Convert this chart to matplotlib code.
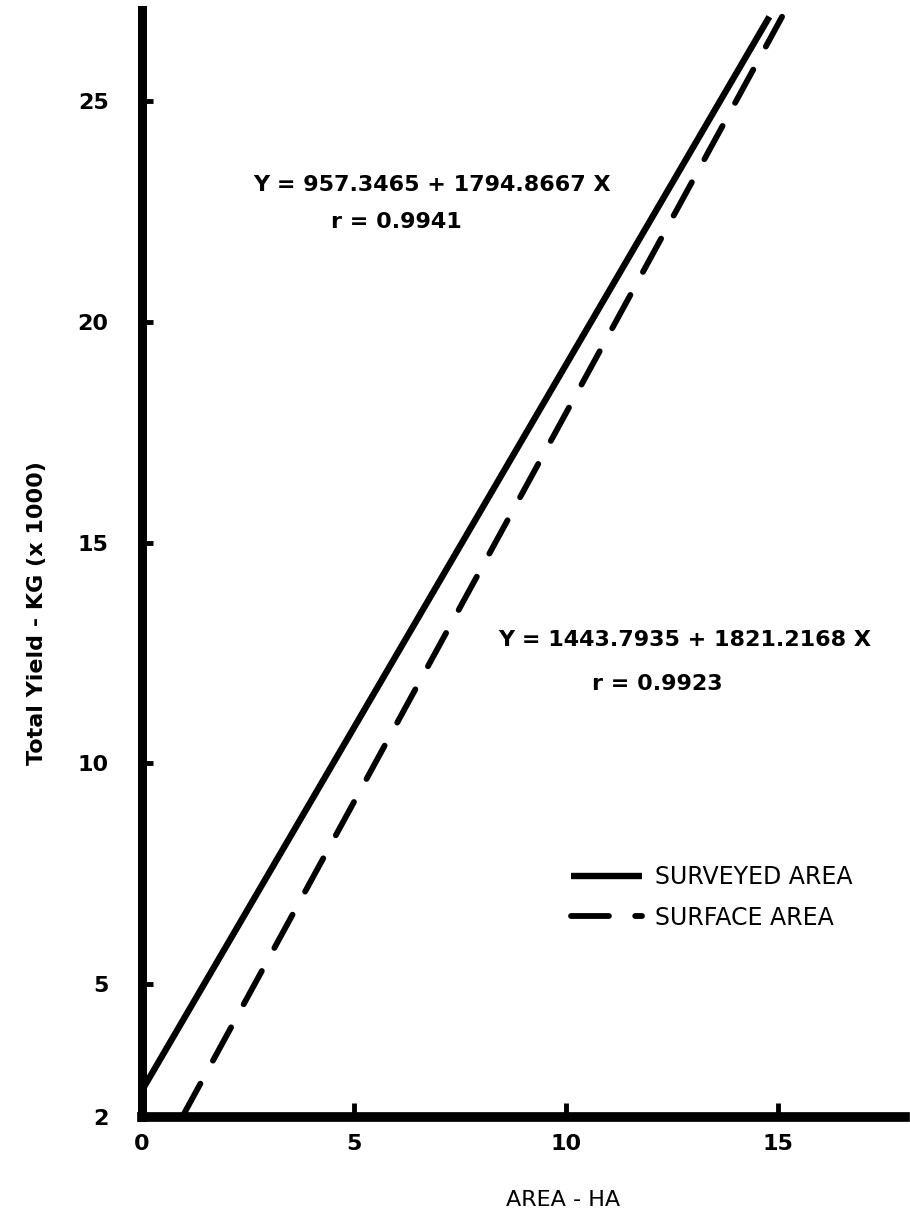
import matplotlib
matplotlib.use("Agg")
import matplotlib.pyplot as plt

# values (area in ha, yield in kg x 1000)
area_surveyed = [0.0, 14.8]
yield_surveyed = [2.6, 26.9]
area_surface = [0.95, 15.1]
yield_surface = [2.0, 26.9]

x_ticks = [0, 5, 10, 15]
y_ticks = [2, 5, 10, 15, 20, 25]

eq_surveyed = "Y = 957.3465 + 1794.8667 X"
r_surveyed = "r = 0.9941"
eq_surface = "Y = 1443.7935 + 1821.2168 X"
r_surface = "r = 0.9923"

plt.rcParams["font.family"] = ["DejaVu Sans"]

fig = plt.figure(figsize=(9.1, 12.19), dpi=100)
ax = fig.add_axes([0.156, 0.0837, 0.8385, 0.908])

ax.plot(area_surveyed, yield_surveyed, color="black", lw=4.6, solid_capstyle="butt",
        label="SURVEYED AREA")
ax.plot(area_surface, yield_surface, color="black", lw=4.2, ls=(0, (6.5, 4.5)),
        dash_capstyle="round", label="SURFACE AREA")

ax.set_xlim(0, 18.0)
ax.set_ylim(2, 27.05)

for side in ["top", "right"]:
    ax.spines[side].set_visible(False)
ax.spines["left"].set_linewidth(6.5)
ax.spines["bottom"].set_linewidth(7)

ax.set_xticks(x_ticks)
ax.set_yticks(y_ticks)
ax.tick_params(axis="y", direction="in", length=8, width=3.5, pad=24,
               labelsize=16)
ax.tick_params(axis="x", direction="in", length=10, width=3.5, pad=12,
               labelsize=16)
for lab in ax.get_xticklabels() + ax.get_yticklabels():
    lab.set_fontweight("bold")

ax.set_ylabel("Total Yield - KG (x 1000)", fontsize=16, fontweight="bold")
ax.yaxis.set_label_coords(-0.125, 0.455)
ax.set_xlabel("AREA - HA", fontsize=16)
ax.xaxis.set_label_coords(0.552, -0.066)

ax.text(6.85, 23.1, eq_surveyed, fontsize=16, fontweight="bold",
        ha="center", va="center")
ax.text(6.0, 22.25, r_surveyed, fontsize=16, fontweight="bold",
        ha="center", va="center")
ax.text(12.8, 12.8, eq_surface, fontsize=16, fontweight="bold",
        ha="center", va="center")
ax.text(12.15, 11.8, r_surface, fontsize=16, fontweight="bold",
        ha="center", va="center")

ax.legend(loc="lower left", bbox_to_anchor=(0.535, 0.15), frameon=False,
          fontsize=17, handlelength=3.0, handletextpad=0.55, labelspacing=0.7)

fig.savefig("out.png", dpi=100, facecolor="white")
